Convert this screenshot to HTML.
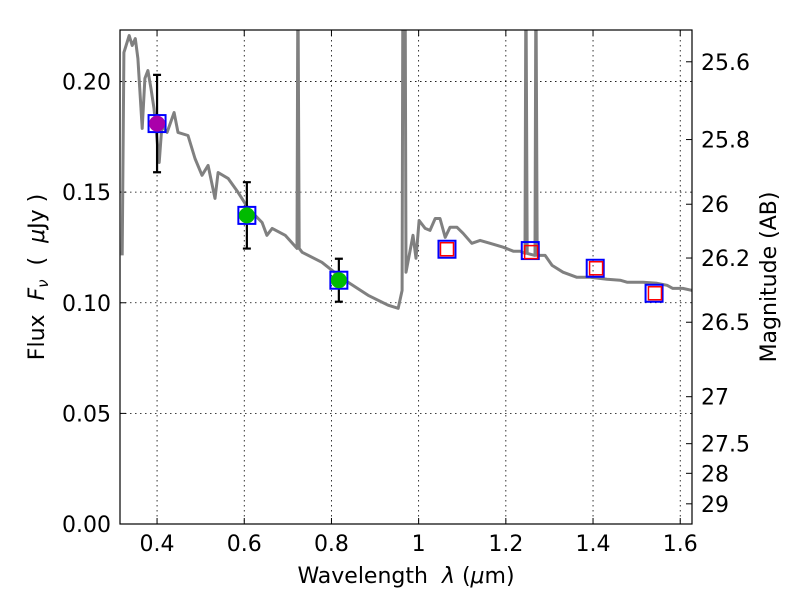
<!DOCTYPE html>
<html><head><meta charset="utf-8"><style>
body{margin:0;background:#fff;}
svg{display:block;font-family:"DejaVu Sans","Liberation Sans",sans-serif;}
text{white-space:pre;}
</style></head><body>
<svg id="chart" width="800" height="600"></svg>
<script>
const specLam=[0.320,0.324,0.336,0.343,0.350,0.356,0.366,0.372,0.379,0.386,0.393,0.405,0.411,0.423,0.439,0.448,0.471,0.487,0.503,0.517,0.533,0.540,0.563,0.586,0.609,0.641,0.652,0.664,0.694,0.721,0.723,0.726,0.733,0.778,0.824,0.884,0.930,0.953,0.962,0.964,0.969,0.971,0.987,0.994,1.001,1.015,1.026,1.038,1.049,1.061,1.072,1.088,1.102,1.122,1.141,1.164,1.194,1.217,1.233,1.244,1.246,1.249,1.267,1.269,1.272,1.290,1.306,1.331,1.363,1.393,1.432,1.462,1.478,1.515,1.547,1.570,1.583,1.606,1.627];
const specFlux=[0.1214,0.2131,0.2208,0.2163,0.2194,0.2104,0.1788,0.2014,0.2050,0.1968,0.1878,0.1634,0.1801,0.1770,0.1860,0.1770,0.1756,0.1652,0.1576,0.1621,0.1472,0.1589,0.1562,0.1499,0.1427,0.1363,0.1305,0.1336,0.1305,0.1246,0.25,0.1246,0.1228,0.1183,0.1111,0.1034,0.0989,0.0975,0.1056,0.25,0.25,0.1138,0.1305,0.1201,0.1372,0.1336,0.1327,0.1381,0.1381,0.1296,0.1341,0.1341,0.1314,0.1269,0.1282,0.1269,0.1251,0.1233,0.1233,0.1223,0.25,0.1223,0.1214,0.25,0.1214,0.1214,0.1169,0.1138,0.1115,0.1115,0.1106,0.1102,0.1093,0.1093,0.1088,0.1079,0.1065,0.1065,0.1056];
const obsLam=[0.400,0.606,0.817];
const obsFlux=[0.1810,0.1395,0.1102];
const obsErr=[0.022,0.015,0.0097];
const obsColor=['#aa00aa','#00bb00','#00bb00'];
const boxLam=[0.400,0.606,0.817,1.065,1.256,1.405,1.540];
const boxFlux=[0.1810,0.1395,0.1102,0.1242,0.1236,0.1156,0.1043];
const limLam=[1.065,1.258,1.407,1.542];
const limFlux=[0.1242,0.1229,0.1156,0.1043];
const xTicks=[0.4,0.6,0.8,1.0,1.2,1.4,1.6];
const xTickLabels=['0.4','0.6','0.8','1','1.2','1.4','1.6'];
const yTicks=[0,0.05,0.10,0.15,0.20];
const yTickLabels=['0.00','0.05','0.10','0.15','0.20'];
const magTicks=[25.6,25.8,26,26.2,26.5,27,27.5,28,29];
const magTickLabels=['25.6','25.8','26','26.2','26.5','27','27.5','28','29'];

const L=120,R=692,T=30,B=524;
const xmin=0.315,xmax=1.627,ymin=0,ymax=0.2233;
const X=v=>L+(v-xmin)/(xmax-xmin)*(R-L);
const Y=v=>B-(v-ymin)/(ymax-ymin)*(B-T);
const magY=m=>Y(Math.pow(10,(23.9-m)/2.5));
const svg=document.getElementById('chart');
const NS='http://www.w3.org/2000/svg';
function mk(tag,attrs,parent){const e=document.createElementNS(NS,tag);for(const k in attrs)e.setAttribute(k,attrs[k]);(parent||svg).appendChild(e);return e;}

const defs=mk('defs',{});
const cp=mk('clipPath',{id:'clip'},defs);
mk('rect',{x:L,y:T,width:R-L,height:B-T},cp);

xTicks.forEach((t,i)=>{
  const g=mk('line',{x1:X(t),x2:X(t),y1:T,y2:B,stroke:'#000','stroke-width':0.8,'stroke-dasharray':'1.5,3.5'});
  
  
  mk('line',{x1:X(t),x2:X(t),y1:B,y2:B-6,stroke:'#000'});
  mk('line',{x1:X(t),x2:X(t),y1:T,y2:T+6,stroke:'#000'});
  const tx=mk('text',{x:X(t),y:B+27,'font-size':22,'text-anchor':'middle'});
  tx.textContent=xTickLabels[i];
  
  
});
yTicks.forEach((t,i)=>{
  const g=mk('line',{x1:L,x2:R,y1:Y(t),y2:Y(t),stroke:'#000','stroke-width':0.8,'stroke-dasharray':'1.5,3.5'});
  
  
  mk('line',{x1:L,x2:L+6,y1:Y(t),y2:Y(t),stroke:'#000'});
  const tx=mk('text',{x:L-9,y:Y(t)+8,'font-size':22,'text-anchor':'end'});
  tx.textContent=yTickLabels[i];
  
  
});
magTicks.forEach((m,i)=>{
  mk('line',{x1:R,x2:R-6,y1:magY(m),y2:magY(m),stroke:'#000'});
  const tx=mk('text',{x:R+9,y:magY(m)+8,'font-size':22});
  tx.textContent=magTickLabels[i];
  
  
});

const plot=mk('g',{'clip-path':'url(#clip)'});
const d=specLam.map((l,i)=>(i?'L':'M')+X(l).toFixed(1)+','+Y(specFlux[i]).toFixed(1)).join('');
const sp=mk('path',{d:d,fill:'none',stroke:'#808080','stroke-width':3,'stroke-linejoin':'round'},plot);



obsLam.forEach((l,i)=>{
  const x=X(l),y1=Y(obsFlux[i]+obsErr[i]),y2=Y(obsFlux[i]-obsErr[i]);
  const e=mk('path',{d:`M${x},${y1}L${x},${y2}M${x-4},${y1}L${x+4},${y1}M${x-4},${y2}L${x+4},${y2}`,stroke:'#000','stroke-width':2.2,fill:'none'},plot);
  
  
});
boxLam.forEach((l,i)=>{
  const b=mk('rect',{x:X(l)-8.5,y:Y(boxFlux[i])-8.5,width:17,height:17,fill:'none',stroke:'#0000ff','stroke-width':2},plot);
  
  
});
limLam.forEach((l,i)=>{
  const b=mk('rect',{x:X(l)-6.5,y:Y(limFlux[i])-6.5,width:13,height:13,fill:'none',stroke:'#ff0000','stroke-width':1.5},plot);
  
  
});
obsLam.forEach((l,i)=>{
  const c=mk('circle',{cx:X(l),cy:Y(obsFlux[i]),r:8,fill:obsColor[i]},plot);
  
  
});

const fr=mk('rect',{x:L,y:T,width:R-L,height:B-T,fill:'none',stroke:'#000','stroke-width':1.2});



const xl=mk('text',{x:406,y:583,'font-size':22,'text-anchor':'middle'});
xl.innerHTML='Wavelength  <tspan font-style="italic">λ</tspan> (<tspan font-style="italic">μ</tspan>m)';


const yl=mk('text',{x:0,y:0,'font-size':22,'text-anchor':'middle',transform:'translate(44,277) rotate(-90)'});
yl.innerHTML='Flux  <tspan font-style="italic">F</tspan><tspan font-style="italic" font-size="15" dy="4">ν</tspan><tspan dy="-4">  (  </tspan><tspan font-style="italic">μ</tspan>Jy )';


const ml=mk('text',{x:0,y:0,'font-size':22,'text-anchor':'middle',transform:'translate(776,277) rotate(-90)'});
ml.textContent='Magnitude (AB)';


</script>
</body></html>
